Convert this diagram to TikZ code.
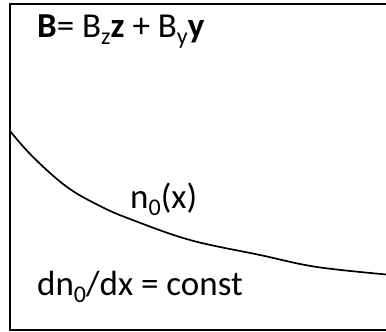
\documentclass[tikz,border=0pt]{standalone}
\usepackage{fontspec}
\setmainfont{Carlito}
\usepackage{tikz}
\usetikzlibrary{positioning}
\newcommand{\lowidx}[1]{\raisebox{-7pt}{\fontsize{24}{28}\selectfont #1}}

\begin{document}
\begin{tikzpicture}[
    x=1pt, y=-1pt,
    frame/.style={draw, line width=2pt},
    profile/.style={draw, line width=1.7pt},
    lbl/.style={anchor=base west, inner sep=0pt, font=\fontsize{35}{42}\selectfont}
]
    \useasboundingbox (0,0) rectangle (386,332);
    \clip (0,0) rectangle (386,332);
    \draw[frame] (10,4) rectangle (400,330);

    % density profile
    \draw[profile] plot[smooth, tension=0.6] coordinates {
        (10,131) (33,157) (67,187) (100,206) (130,219)
        (190,240) (260,255) (317,267) (392,275)};

    \node[lbl] (field) at (37,37) {\textbf{B}= B\lowidx{z}\textbf{z} + B\lowidx{y}\textbf{y}};
    \node[lbl] (dens) at (130,208) {n\lowidx{0}(x)};
    \node[lbl] (grad) at (37,295) {dn\lowidx{0}/dx = const};
\end{tikzpicture}
\end{document}
